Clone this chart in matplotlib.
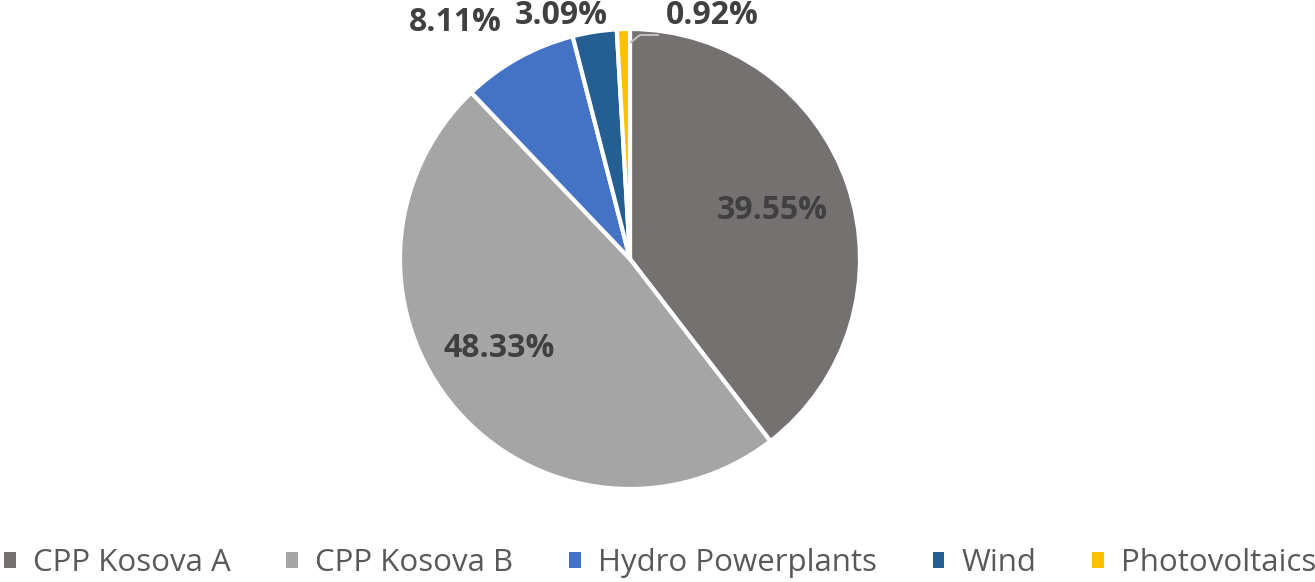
import matplotlib
matplotlib.use("Agg")
import matplotlib.pyplot as plt

categories = ["CPP Kosova A", "CPP Kosova B", "Hydro Powerplants", "Wind", "Photovoltaics"]
values = [39.55, 48.33, 8.11, 3.09, 0.92]
colors = ["#767171", "#A5A5A5", "#4472C4", "#255E91", "#FFC000"]
label_pos = [(0.62, 0.21), (-0.57, -0.39), (-0.76, 1.03), (-0.30, 1.057), (0.357, 1.057)]

W, H = 1315, 582
fig = plt.figure(figsize=(W / 100, H / 100), dpi=100)
cx, cy, r = 630, 259, 230
ax = fig.add_axes([(cx - r) / W, (H - cy - r) / H, 2 * r / W, 2 * r / H])
wedges, _ = ax.pie(values, colors=colors, startangle=90, counterclock=False,
                   wedgeprops=dict(edgecolor="white", linewidth=3))
ax.set_xlim(-1, 1)
ax.set_ylim(-1, 1)
ax.set_aspect("equal")
ax.axis("off")

for v, (x, y) in zip(values, label_pos):
    ax.text(x, y, f"{v:.2f}%", ha="center", va="center", fontsize=23,
            fontweight="bold", color="#404040", family="Open Sans", clip_on=False)

# leader line for the small PV slice
ax.plot([0.004, 0.043, 0.122], [0.943, 0.974, 0.974], color="#BFBFBF", lw=1.5,
        clip_on=False)

fs = 22.5
leg = fig.legend(wedges, categories, loc="center", ncol=5, frameon=False,
                 bbox_to_anchor=(0.502, 1 - 563 / H), handlelength=0.38, handleheight=0.38,
                 handletextpad=0.55, columnspacing=1.78, borderaxespad=0, borderpad=0,
                 prop=dict(family="Open Sans", size=fs))
for t in leg.get_texts():
    t.set_color("#595959")
for h in leg.legend_handles:
    h.set_edgecolor("none")

fig.savefig("out.png", dpi=100)
